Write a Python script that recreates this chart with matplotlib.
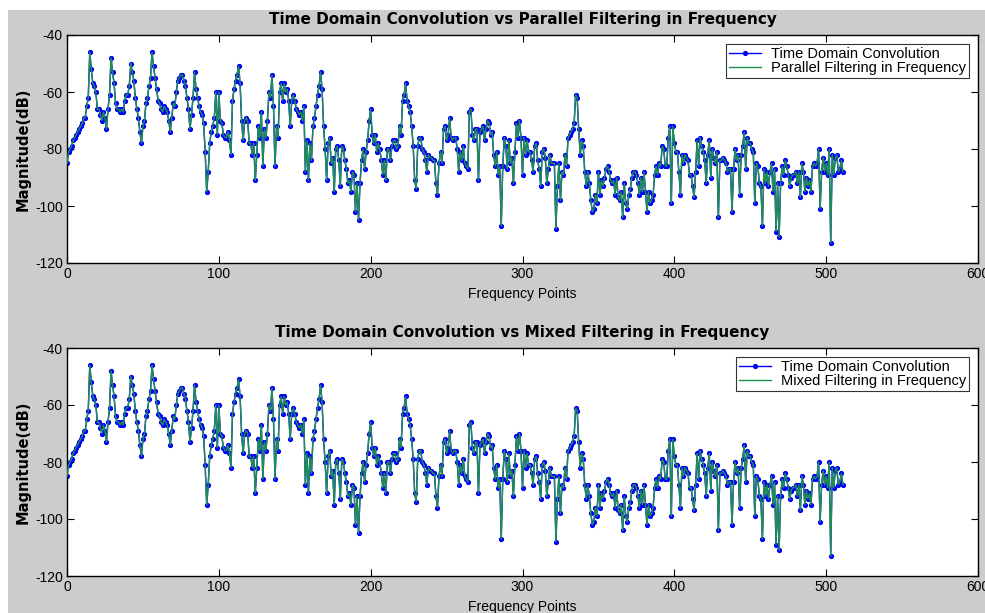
import numpy as np
import matplotlib
matplotlib.use("Agg")
import matplotlib.pyplot as plt
from matplotlib.patches import Rectangle

plt.rcParams['font.family'] = ['Liberation Sans', 'DejaVu Sans']
plt.rcParams['axes.unicode_minus'] = False

# ---- data (magnitude in dB) ----
seg1 = [-85, -81, -80, -79, -77, -76, -75, -74, -73, -72,
        -71, -69, -69, -65, -62, -46, -52, -57, -58, -60,
        -66, -66, -68, -70, -67, -69, -73, -66, -61, -48,
        -53, -57, -64, -66, -66, -67, -66, -67, -63, -61,
        -61, -58, -50, -53, -56, -62, -66, -69, -74, -78,
        -72, -70, -64, -62, -58, -55, -46, -51, -55, -59,
        -63, -64, -66, -67, -65, -66, -67, -70, -74, -69,
        -64, -65, -60, -56, -55, -54, -54, -56, -58, -62,
        -66, -73, -68, -62, -53, -59, -62, -65, -67, -68,
        -71, -81, -95, -88]
seg2 = [-78, -74, -72, -69, -60, -75, -60, -70, -71, -75,
        -76, -76, -74, -77, -82, -63, -59, -56, -54, -51,
        -57, -70, -77, -70, -69, -70, -78, -78, -82, -78,
        -91, -82, -72, -76, -67, -86, -73, -76, -70, -60,
        -62, -54, -65, -86, -72, -76, -60, -57, -63, -57,
        -60, -59, -63, -72, -63, -61, -63, -66, -67, -68,
        -67, -70, -65, -88, -77, -91, -78, -84, -72, -69,
        -65, -61, -58, -53, -59, -72, -80, -91, -78, -76,
        -85, -83, -95, -80, -79]
seg3 = [-84, -93, -79, -80, -84, -87, -92, -91, -95, -88,
        -89, -102, -92, -105, -92, -84, -80, -87, -81, -77,
        -70, -66, -75, -78, -75, -81, -78, -80, -84, -89,
        -84, -91, -80, -80, -84, -79, -77, -77, -80, -79,
        -72, -75, -63, -61, -57, -63, -65, -67, -72, -79,
        -91, -94, -79, -76, -76, -80, -81, -84, -88, -82,
        -83, -83, -84, -84, -92, -96,
        -85, -81, -85, -73, -72, -77, -75, -69, -76, -77,
        -76, -76, -80, -88, -81, -84, -79, -85, -86, -87,
        -67, -66, -75, -77, -73, -73, -91, -74, -73, -72, -77]
seg4 = [-73, -70, -71, -75, -74, -82, -86, -81, -89, -86,
        -107, -86, -76, -79, -87, -77, -85, -83, -92, -81,
        -71, -76, -70, -76, -89, -76, -82, -77, -81, -81,
        -84, -88, -79, -78, -84, -87, -93, -81, -80, -83,
        -92, -87, -82, -85, -85, -85, -108, -93, -85, -98,
        -88, -89, -82, -86, -76, -75, -74, -73, -71, -61,
        -62, -73, -82, -77, -79, -88, -93, -88, -92, -98, -102,
        -101, -96, -99, -88, -96, -91, -93, -90, -87, -86,
        -88, -91, -92, -91, -96, -90, -97, -98, -95, -104]
seg5 = [-92, -99, -101, -96, -94, -90, -88, -88, -89, -92,
        -96, -90, -95, -88, -95, -102, -95, -99, -98, -96,
        -89, -86, -89, -85, -86, -79, -80, -86, -86, -76,
        -72, -99, -72, -78, -81, -81, -88, -96, -82, -85,
        -82, -83, -84, -89, -89, -93, -97, -88, -77, -86,
        -76, -79, -81, -84, -92, -82, -77, -90, -80, -83,
        -85, -81, -104, -84, -84, -83, -84, -85, -88, -87, -87,
        -102, -87, -80, -84, -82, -96, -82, -79, -74, -87,
        -76, -78, -78, -80, -81, -99, -85, -86, -92, -93, -107]
seg6 = [-87, -92, -88, -93, -88, -85, -95, -87, -109, -92,
        -111, -92, -86, -89, -84, -86, -89, -93, -90, -89,
        -89, -88, -92, -88, -97, -85, -88, -95, -90, -93,
        -91, -95, -86, -85, -86, -85, -80, -101, -88, -83,
        -88, -85, -89, -80, -113, -82, -89, -83, -82, -88,
        -87, -84, -88]

time_domain = seg1 + seg2 + seg3 + seg4 + seg5 + seg6
parallel_freq = list(time_domain)   # coincides with time-domain result
mixed_freq = list(time_domain)      # coincides with time-domain result

titles = ["Time Domain Convolution vs Parallel Filtering in Frequency",
          "Time Domain Convolution vs Mixed Filtering in Frequency"]
legend_labels = [["Time Domain Convolution", "Parallel Filtering in Frequency"],
                 ["Time Domain Convolution", "Mixed Filtering in Frequency"]]
x_ticks = [0, 100, 200, 300, 400, 500, 600]
y_ticks = [-120, -100, -80, -60, -40]

W, H = 985, 613
fig = plt.figure(figsize=(W / 100, H / 100), dpi=100, facecolor='#cccccc')
# white strips at top and left of the screenshot
fig.patches.append(Rectangle((0, 1 - 10 / H), 1, 10 / H, transform=fig.transFigure,
                             facecolor='white', edgecolor='none', zorder=0))
fig.patches.append(Rectangle((0, 0), 8 / W, 1, transform=fig.transFigure,
                             facecolor='white', edgecolor='none', zorder=0))

freq_points = np.arange(len(time_domain))
blue = '#0000ff'
green = '#1f8f50'

axes_px = [(67, 35, 978, 263), (67, 348, 978, 576)]
for k, (l, t, r, b) in enumerate(axes_px):
    ax = fig.add_axes([l / W, 1 - b / H, (r - l) / W, (b - t) / H])
    second = parallel_freq if k == 0 else mixed_freq
    ax.plot(freq_points, time_domain, color=blue, linewidth=1.0, marker='.',
            markersize=5.5, label=legend_labels[k][0], zorder=2)
    ax.plot(freq_points, second, color=green, linewidth=1.0,
            label=legend_labels[k][1], zorder=3)
    ax.set_xlim(0, 600)
    ax.set_ylim(-120, -40)
    ax.set_xticks(x_ticks)
    ax.set_yticks(y_ticks)
    ax.tick_params(direction='in', top=True, right=True, length=5,
                   labelsize=10, width=0.8, pad=3)
    for s in ax.spines.values():
        s.set_linewidth(1.0)
    ax.set_title(titles[k], fontsize=11, fontweight='bold', pad=8,
                 family=['DejaVu Sans'])
    ax.set_xlabel("Frequency Points", fontsize=10, labelpad=4)
    ax.set_ylabel("Magnitude(dB)", fontsize=10.5, fontweight='bold', labelpad=3,
                  family=['DejaVu Sans'])
    leg = ax.legend(loc='upper right', fontsize=10.5, frameon=True, fancybox=False,
                    edgecolor='black', borderaxespad=0.6, handlelength=2.2,
                    borderpad=0.2, labelspacing=0.05, handletextpad=0.7)
    leg.get_frame().set_linewidth(0.8)

fig.savefig("out.png", dpi=100, facecolor=fig.get_facecolor())
